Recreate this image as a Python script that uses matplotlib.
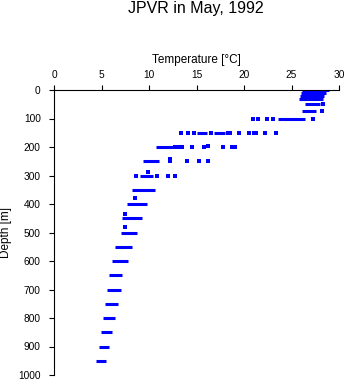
import matplotlib
matplotlib.use("Agg")
import matplotlib.pyplot as plt

plt.rcParams['font.family'] = ['Liberation Sans', 'DejaVu Sans']

# dense clusters of readings at each standard depth: (depth, min temp, max temp)
band_depth = [0, 10, 20, 30, 50, 75, 100, 150, 150, 200, 250, 300, 350, 400,
              450, 500, 550, 600, 650, 700, 750, 800, 850, 900, 950]
band_lo = [26.1, 26.0, 25.9, 25.8, 26.4, 26.1, 23.6, 15.1, 16.8, 10.7, 9.4, 9.05,
           8.2, 7.65, 7.2, 7.0, 6.45, 6.1, 5.75, 5.6, 5.4, 5.15, 4.9, 4.75, 4.4]
band_hi = [28.9, 28.6, 28.4, 28.3, 28.0, 27.6, 26.4, 16.1, 18.0, 12.5, 11.1, 10.45,
           10.6, 9.75, 9.3, 8.7, 8.2, 7.75, 7.2, 7.0, 6.7, 6.4, 6.1, 5.8, 5.5]

# isolated readings
pt_depth = [50, 75,
            100, 100, 100, 100, 100,
            150, 150, 150, 150, 150, 150, 150, 150, 150, 150, 150, 150,
            200, 200, 200, 200, 200, 200, 196, 200, 200, 200,
            250, 242, 250, 250, 250,
            289, 300, 300, 300, 300,
            380, 435, 481]
pt_temp = [28.3, 28.2,
           20.9, 21.5, 22.4, 23.1, 27.3,
           13.4, 14.1, 14.7, 16.5, 18.3, 18.5, 19.5, 20.5, 21.1, 21.3, 22.2, 23.4,
           12.7, 13.0, 13.3, 13.5, 14.5, 15.8, 16.2, 17.8, 18.7, 19.0,
           12.2, 12.2, 14.0, 15.3, 16.2,
           9.9, 8.6, 10.8, 12.0, 12.7,
           8.5, 7.5, 7.5]

fig = plt.figure(figsize=(3.48, 3.84), dpi=100)
ax = fig.add_axes([54 / 348, 1 - 375 / 384, 285 / 348, 285 / 384])

ax.hlines(band_depth, band_lo, band_hi, colors='#0000ff', linewidth=2.2)
ax.plot(pt_temp, pt_depth, 's', color='#0000ff', markersize=2.5, markeredgewidth=0)

ax.set_xlim(0, 30)
ax.set_ylim(1000, 0)
ax.set_xticks(range(0, 31, 5))
ax.set_yticks(range(0, 1001, 100))
ax.xaxis.tick_top()
ax.xaxis.set_label_position('top')
ax.tick_params(axis='both', direction='out', length=3.6, width=0.8, labelsize=7.3)
ax.tick_params(axis='x', pad=3.5)
ax.tick_params(axis='y', pad=6)
for side in ['right', 'bottom']:
    ax.spines[side].set_visible(False)
for side in ['left', 'top']:
    ax.spines[side].set_linewidth(0.8)

ax.set_xlabel('Temperature [°C]', fontsize=8.5, labelpad=5)
fig.text(6 / 348, 1 - 232 / 384, 'Depth [m]', rotation=90, fontsize=8.5,
         ha='center', va='center')
fig.text(196 / 348, 1 - 9 / 384, 'JPVR in May, 1992', fontsize=11.5,
         ha='center', va='center')

fig.savefig('out.png', dpi=100)
